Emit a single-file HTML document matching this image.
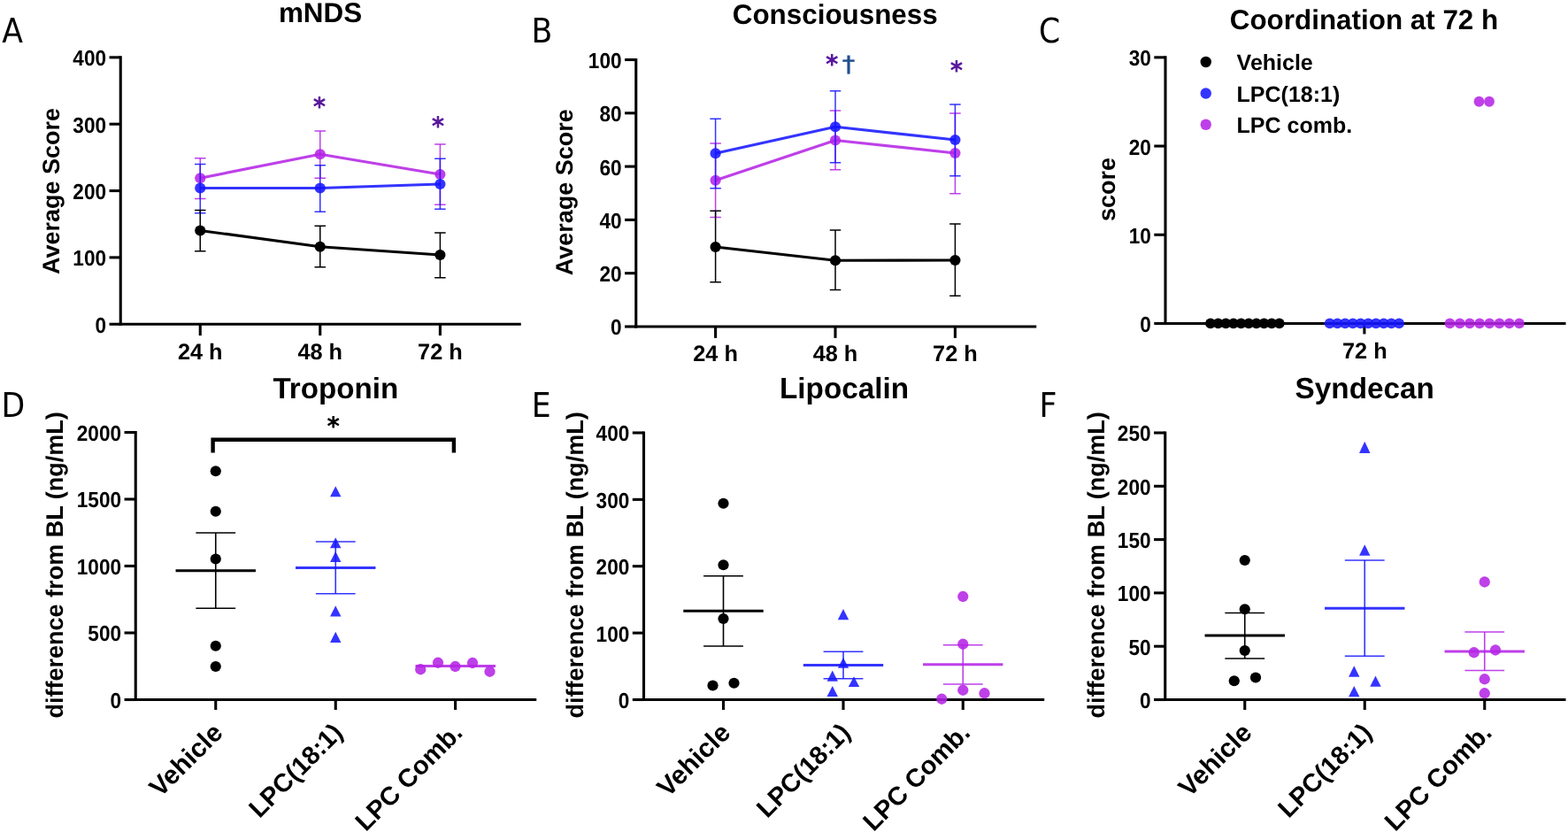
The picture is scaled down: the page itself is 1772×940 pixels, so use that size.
<!DOCTYPE html>
<html lang="en"><head><meta charset="utf-8"><title>Figure</title>
<style>
html,body{margin:0;padding:0;background:#fff;}
body{width:1772px;height:940px;overflow:hidden;}
svg{display:block;}
svg text{font-family:"Liberation Sans",Arial,sans-serif;text-rendering:geometricPrecision;}
</style></head><body>
<svg width="1772" height="940" viewBox="0 0 1772 940">
<rect width="1772" height="940" fill="#fff"/>
<text x="2.20" y="48.40" font-size="38.5" font-weight="normal" fill="#000" style="font-family:DejaVu Sans Condensed,DejaVu Sans,Liberation Sans,sans-serif">A</text>
<text x="600.50" y="48.20" font-size="38.5" font-weight="normal" fill="#000" style="font-family:DejaVu Sans Condensed,DejaVu Sans,Liberation Sans,sans-serif">B</text>
<text x="1174.00" y="48.10" font-size="38.5" font-weight="normal" fill="#000" style="font-family:DejaVu Sans Condensed,DejaVu Sans,Liberation Sans,sans-serif">C</text>
<text x="1.60" y="471.30" font-size="38.5" font-weight="normal" fill="#000" style="font-family:DejaVu Sans Condensed,DejaVu Sans,Liberation Sans,sans-serif">D</text>
<text x="600.70" y="471.30" font-size="38.5" font-weight="normal" fill="#000" style="font-family:DejaVu Sans Condensed,DejaVu Sans,Liberation Sans,sans-serif">E</text>
<text x="1174.40" y="471.30" font-size="38.5" font-weight="normal" fill="#000" style="font-family:DejaVu Sans Condensed,DejaVu Sans,Liberation Sans,sans-serif">F</text>
<line x1="136.25" y1="63.30" x2="136.25" y2="367.80" stroke="#000" stroke-width="3.1" stroke-linecap="butt"/>
<line x1="123.55" y1="366.25" x2="136.25" y2="366.25" stroke="#000" stroke-width="3.1" stroke-linecap="butt"/>
<text transform="translate(120.05 375.70) scale(0.919 1)" x="0" y="0" font-size="24.6" font-weight="bold" text-anchor="end" fill="#000">0</text>
<line x1="123.55" y1="290.90" x2="136.25" y2="290.90" stroke="#000" stroke-width="3.1" stroke-linecap="butt"/>
<text transform="translate(120.05 300.35) scale(0.919 1)" x="0" y="0" font-size="24.6" font-weight="bold" text-anchor="end" fill="#000">100</text>
<line x1="123.55" y1="215.55" x2="136.25" y2="215.55" stroke="#000" stroke-width="3.1" stroke-linecap="butt"/>
<text transform="translate(120.05 225.00) scale(0.919 1)" x="0" y="0" font-size="24.6" font-weight="bold" text-anchor="end" fill="#000">200</text>
<line x1="123.55" y1="140.20" x2="136.25" y2="140.20" stroke="#000" stroke-width="3.1" stroke-linecap="butt"/>
<text transform="translate(120.05 149.65) scale(0.919 1)" x="0" y="0" font-size="24.6" font-weight="bold" text-anchor="end" fill="#000">300</text>
<line x1="123.55" y1="64.85" x2="136.25" y2="64.85" stroke="#000" stroke-width="3.1" stroke-linecap="butt"/>
<text transform="translate(120.05 74.30) scale(0.919 1)" x="0" y="0" font-size="24.6" font-weight="bold" text-anchor="end" fill="#000">400</text>
<line x1="134.70" y1="366.25" x2="588.75" y2="366.25" stroke="#000" stroke-width="3.1" stroke-linecap="butt"/>
<line x1="226.25" y1="366.25" x2="226.25" y2="379.15" stroke="#000" stroke-width="3.1" stroke-linecap="butt"/>
<line x1="361.75" y1="366.25" x2="361.75" y2="379.15" stroke="#000" stroke-width="3.1" stroke-linecap="butt"/>
<line x1="497.40" y1="366.25" x2="497.40" y2="379.15" stroke="#000" stroke-width="3.1" stroke-linecap="butt"/>
<text x="226.25" y="405.50" font-size="25.3" font-weight="bold" text-anchor="middle" fill="#000" >24 h</text>
<text x="361.75" y="405.50" font-size="25.3" font-weight="bold" text-anchor="middle" fill="#000" >48 h</text>
<text x="497.40" y="405.50" font-size="25.3" font-weight="bold" text-anchor="middle" fill="#000" >72 h</text>
<text x="362.00" y="25.40" font-size="31.4" font-weight="bold" text-anchor="middle" fill="#000" >mNDS</text>
<text x="67.30" y="216.00" font-size="27" font-weight="bold" text-anchor="middle" fill="#000" transform="rotate(-90 67.30 216.00)" >Average Score</text>
<line x1="226.25" y1="178.75" x2="226.25" y2="224.50" stroke="#b424e6" stroke-width="1.5" stroke-linecap="butt" stroke-opacity="0.87"/>
<line x1="220.00" y1="178.75" x2="232.50" y2="178.75" stroke="#b424e6" stroke-width="1.5" stroke-linecap="butt" stroke-opacity="0.87"/>
<line x1="220.00" y1="224.50" x2="232.50" y2="224.50" stroke="#b424e6" stroke-width="1.5" stroke-linecap="butt" stroke-opacity="0.87"/>
<line x1="361.75" y1="148.00" x2="361.75" y2="201.25" stroke="#b424e6" stroke-width="1.5" stroke-linecap="butt" stroke-opacity="0.87"/>
<line x1="355.50" y1="148.00" x2="368.00" y2="148.00" stroke="#b424e6" stroke-width="1.5" stroke-linecap="butt" stroke-opacity="0.87"/>
<line x1="355.50" y1="201.25" x2="368.00" y2="201.25" stroke="#b424e6" stroke-width="1.5" stroke-linecap="butt" stroke-opacity="0.87"/>
<line x1="497.40" y1="163.00" x2="497.40" y2="231.25" stroke="#b424e6" stroke-width="1.5" stroke-linecap="butt" stroke-opacity="0.87"/>
<line x1="491.15" y1="163.00" x2="503.65" y2="163.00" stroke="#b424e6" stroke-width="1.5" stroke-linecap="butt" stroke-opacity="0.87"/>
<line x1="491.15" y1="231.25" x2="503.65" y2="231.25" stroke="#b424e6" stroke-width="1.5" stroke-linecap="butt" stroke-opacity="0.87"/>
<polyline points="226.25,201.25 361.75,174.25 497.40,197.00" fill="none" stroke="#b424e6" stroke-width="3.2" stroke-opacity="0.87" stroke-linejoin="round"/>
<circle cx="226.25" cy="201.25" r="6.1" fill="#b424e6" fill-opacity="0.87"/>
<circle cx="361.75" cy="174.25" r="6.1" fill="#b424e6" fill-opacity="0.87"/>
<circle cx="497.40" cy="197.00" r="6.1" fill="#b424e6" fill-opacity="0.87"/>
<line x1="226.25" y1="185.50" x2="226.25" y2="240.75" stroke="#1616ff" stroke-width="1.5" stroke-linecap="butt" stroke-opacity="0.87"/>
<line x1="220.00" y1="185.50" x2="232.50" y2="185.50" stroke="#1616ff" stroke-width="1.5" stroke-linecap="butt" stroke-opacity="0.87"/>
<line x1="220.00" y1="240.75" x2="232.50" y2="240.75" stroke="#1616ff" stroke-width="1.5" stroke-linecap="butt" stroke-opacity="0.87"/>
<line x1="361.75" y1="186.75" x2="361.75" y2="239.25" stroke="#1616ff" stroke-width="1.5" stroke-linecap="butt" stroke-opacity="0.87"/>
<line x1="355.50" y1="186.75" x2="368.00" y2="186.75" stroke="#1616ff" stroke-width="1.5" stroke-linecap="butt" stroke-opacity="0.87"/>
<line x1="355.50" y1="239.25" x2="368.00" y2="239.25" stroke="#1616ff" stroke-width="1.5" stroke-linecap="butt" stroke-opacity="0.87"/>
<line x1="497.40" y1="179.25" x2="497.40" y2="236.25" stroke="#1616ff" stroke-width="1.5" stroke-linecap="butt" stroke-opacity="0.87"/>
<line x1="491.15" y1="179.25" x2="503.65" y2="179.25" stroke="#1616ff" stroke-width="1.5" stroke-linecap="butt" stroke-opacity="0.87"/>
<line x1="491.15" y1="236.25" x2="503.65" y2="236.25" stroke="#1616ff" stroke-width="1.5" stroke-linecap="butt" stroke-opacity="0.87"/>
<polyline points="226.25,212.50 361.75,212.50 497.40,208.00" fill="none" stroke="#1616ff" stroke-width="3.2" stroke-opacity="0.87" stroke-linejoin="round"/>
<circle cx="226.25" cy="212.50" r="6.1" fill="#1616ff" fill-opacity="0.87"/>
<circle cx="361.75" cy="212.50" r="6.1" fill="#1616ff" fill-opacity="0.87"/>
<circle cx="497.40" cy="208.00" r="6.1" fill="#1616ff" fill-opacity="0.87"/>
<line x1="226.25" y1="237.50" x2="226.25" y2="283.75" stroke="#000" stroke-width="1.5" stroke-linecap="butt"/>
<line x1="220.00" y1="237.50" x2="232.50" y2="237.50" stroke="#000" stroke-width="1.5" stroke-linecap="butt"/>
<line x1="220.00" y1="283.75" x2="232.50" y2="283.75" stroke="#000" stroke-width="1.5" stroke-linecap="butt"/>
<line x1="361.75" y1="255.25" x2="361.75" y2="301.75" stroke="#000" stroke-width="1.5" stroke-linecap="butt"/>
<line x1="355.50" y1="255.25" x2="368.00" y2="255.25" stroke="#000" stroke-width="1.5" stroke-linecap="butt"/>
<line x1="355.50" y1="301.75" x2="368.00" y2="301.75" stroke="#000" stroke-width="1.5" stroke-linecap="butt"/>
<line x1="497.40" y1="263.00" x2="497.40" y2="313.75" stroke="#000" stroke-width="1.5" stroke-linecap="butt"/>
<line x1="491.15" y1="263.00" x2="503.65" y2="263.00" stroke="#000" stroke-width="1.5" stroke-linecap="butt"/>
<line x1="491.15" y1="313.75" x2="503.65" y2="313.75" stroke="#000" stroke-width="1.5" stroke-linecap="butt"/>
<polyline points="226.25,260.50 361.75,278.75 497.40,288.00" fill="none" stroke="#000" stroke-width="3.2" stroke-opacity="1" stroke-linejoin="round"/>
<circle cx="226.25" cy="260.50" r="6.1" fill="#000"/>
<circle cx="361.75" cy="278.75" r="6.1" fill="#000"/>
<circle cx="497.40" cy="288.00" r="6.1" fill="#000"/>
<text transform="translate(360.90 129.97) scale(1 1.0)" x="0" y="0" font-size="27.8" font-weight="normal" text-anchor="middle" fill="#56149a" stroke="#56149a" stroke-width="1.0" stroke-linejoin="round" style="font-family:DejaVu Sans,Liberation Sans,sans-serif">*</text>
<text transform="translate(495.00 152.17) scale(1 1.0)" x="0" y="0" font-size="27.8" font-weight="normal" text-anchor="middle" fill="#56149a" stroke="#56149a" stroke-width="1.0" stroke-linejoin="round" style="font-family:DejaVu Sans,Liberation Sans,sans-serif">*</text>
<line x1="718.75" y1="65.95" x2="718.75" y2="370.55" stroke="#000" stroke-width="3.1" stroke-linecap="butt"/>
<line x1="706.05" y1="369.00" x2="718.75" y2="369.00" stroke="#000" stroke-width="3.1" stroke-linecap="butt"/>
<text transform="translate(702.55 378.45) scale(0.919 1)" x="0" y="0" font-size="24.6" font-weight="bold" text-anchor="end" fill="#000">0</text>
<line x1="706.05" y1="308.70" x2="718.75" y2="308.70" stroke="#000" stroke-width="3.1" stroke-linecap="butt"/>
<text transform="translate(702.55 318.15) scale(0.919 1)" x="0" y="0" font-size="24.6" font-weight="bold" text-anchor="end" fill="#000">20</text>
<line x1="706.05" y1="248.40" x2="718.75" y2="248.40" stroke="#000" stroke-width="3.1" stroke-linecap="butt"/>
<text transform="translate(702.55 257.85) scale(0.919 1)" x="0" y="0" font-size="24.6" font-weight="bold" text-anchor="end" fill="#000">40</text>
<line x1="706.05" y1="188.10" x2="718.75" y2="188.10" stroke="#000" stroke-width="3.1" stroke-linecap="butt"/>
<text transform="translate(702.55 197.55) scale(0.919 1)" x="0" y="0" font-size="24.6" font-weight="bold" text-anchor="end" fill="#000">60</text>
<line x1="706.05" y1="127.80" x2="718.75" y2="127.80" stroke="#000" stroke-width="3.1" stroke-linecap="butt"/>
<text transform="translate(702.55 137.25) scale(0.919 1)" x="0" y="0" font-size="24.6" font-weight="bold" text-anchor="end" fill="#000">80</text>
<line x1="706.05" y1="67.50" x2="718.75" y2="67.50" stroke="#000" stroke-width="3.1" stroke-linecap="butt"/>
<text transform="translate(702.55 76.95) scale(0.919 1)" x="0" y="0" font-size="24.6" font-weight="bold" text-anchor="end" fill="#000">100</text>
<line x1="717.20" y1="369.00" x2="1171.25" y2="369.00" stroke="#000" stroke-width="3.1" stroke-linecap="butt"/>
<line x1="808.60" y1="369.00" x2="808.60" y2="381.90" stroke="#000" stroke-width="3.1" stroke-linecap="butt"/>
<line x1="944.00" y1="369.00" x2="944.00" y2="381.90" stroke="#000" stroke-width="3.1" stroke-linecap="butt"/>
<line x1="1079.40" y1="369.00" x2="1079.40" y2="381.90" stroke="#000" stroke-width="3.1" stroke-linecap="butt"/>
<text x="808.60" y="407.80" font-size="25.3" font-weight="bold" text-anchor="middle" fill="#000" >24 h</text>
<text x="944.00" y="407.80" font-size="25.3" font-weight="bold" text-anchor="middle" fill="#000" >48 h</text>
<text x="1079.40" y="407.80" font-size="25.3" font-weight="bold" text-anchor="middle" fill="#000" >72 h</text>
<text x="943.75" y="27.00" font-size="31.4" font-weight="bold" text-anchor="middle" fill="#000" >Consciousness</text>
<text x="647.20" y="217.20" font-size="27" font-weight="bold" text-anchor="middle" fill="#000" transform="rotate(-90 647.20 217.20)" >Average Score</text>
<line x1="808.60" y1="162.00" x2="808.60" y2="245.50" stroke="#b424e6" stroke-width="1.5" stroke-linecap="butt" stroke-opacity="0.87"/>
<line x1="802.35" y1="162.00" x2="814.85" y2="162.00" stroke="#b424e6" stroke-width="1.5" stroke-linecap="butt" stroke-opacity="0.87"/>
<line x1="802.35" y1="245.50" x2="814.85" y2="245.50" stroke="#b424e6" stroke-width="1.5" stroke-linecap="butt" stroke-opacity="0.87"/>
<line x1="944.00" y1="125.00" x2="944.00" y2="191.75" stroke="#b424e6" stroke-width="1.5" stroke-linecap="butt" stroke-opacity="0.87"/>
<line x1="937.75" y1="125.00" x2="950.25" y2="125.00" stroke="#b424e6" stroke-width="1.5" stroke-linecap="butt" stroke-opacity="0.87"/>
<line x1="937.75" y1="191.75" x2="950.25" y2="191.75" stroke="#b424e6" stroke-width="1.5" stroke-linecap="butt" stroke-opacity="0.87"/>
<line x1="1079.40" y1="128.00" x2="1079.40" y2="218.75" stroke="#b424e6" stroke-width="1.5" stroke-linecap="butt" stroke-opacity="0.87"/>
<line x1="1073.15" y1="128.00" x2="1085.65" y2="128.00" stroke="#b424e6" stroke-width="1.5" stroke-linecap="butt" stroke-opacity="0.87"/>
<line x1="1073.15" y1="218.75" x2="1085.65" y2="218.75" stroke="#b424e6" stroke-width="1.5" stroke-linecap="butt" stroke-opacity="0.87"/>
<polyline points="808.60,203.75 944.00,158.50 1079.40,173.00" fill="none" stroke="#b424e6" stroke-width="3.2" stroke-opacity="0.87" stroke-linejoin="round"/>
<circle cx="808.60" cy="203.75" r="6.1" fill="#b424e6" fill-opacity="0.87"/>
<circle cx="944.00" cy="158.50" r="6.1" fill="#b424e6" fill-opacity="0.87"/>
<circle cx="1079.40" cy="173.00" r="6.1" fill="#b424e6" fill-opacity="0.87"/>
<line x1="808.60" y1="134.25" x2="808.60" y2="212.75" stroke="#1616ff" stroke-width="1.5" stroke-linecap="butt" stroke-opacity="0.87"/>
<line x1="802.35" y1="134.25" x2="814.85" y2="134.25" stroke="#1616ff" stroke-width="1.5" stroke-linecap="butt" stroke-opacity="0.87"/>
<line x1="802.35" y1="212.75" x2="814.85" y2="212.75" stroke="#1616ff" stroke-width="1.5" stroke-linecap="butt" stroke-opacity="0.87"/>
<line x1="944.00" y1="102.75" x2="944.00" y2="183.75" stroke="#1616ff" stroke-width="1.5" stroke-linecap="butt" stroke-opacity="0.87"/>
<line x1="937.75" y1="102.75" x2="950.25" y2="102.75" stroke="#1616ff" stroke-width="1.5" stroke-linecap="butt" stroke-opacity="0.87"/>
<line x1="937.75" y1="183.75" x2="950.25" y2="183.75" stroke="#1616ff" stroke-width="1.5" stroke-linecap="butt" stroke-opacity="0.87"/>
<line x1="1079.40" y1="118.00" x2="1079.40" y2="198.75" stroke="#1616ff" stroke-width="1.5" stroke-linecap="butt" stroke-opacity="0.87"/>
<line x1="1073.15" y1="118.00" x2="1085.65" y2="118.00" stroke="#1616ff" stroke-width="1.5" stroke-linecap="butt" stroke-opacity="0.87"/>
<line x1="1073.15" y1="198.75" x2="1085.65" y2="198.75" stroke="#1616ff" stroke-width="1.5" stroke-linecap="butt" stroke-opacity="0.87"/>
<polyline points="808.60,173.25 944.00,143.25 1079.40,158.00" fill="none" stroke="#1616ff" stroke-width="3.2" stroke-opacity="0.87" stroke-linejoin="round"/>
<circle cx="808.60" cy="173.25" r="6.1" fill="#1616ff" fill-opacity="0.87"/>
<circle cx="944.00" cy="143.25" r="6.1" fill="#1616ff" fill-opacity="0.87"/>
<circle cx="1079.40" cy="158.00" r="6.1" fill="#1616ff" fill-opacity="0.87"/>
<line x1="808.60" y1="238.25" x2="808.60" y2="318.75" stroke="#000" stroke-width="1.5" stroke-linecap="butt"/>
<line x1="802.35" y1="238.25" x2="814.85" y2="238.25" stroke="#000" stroke-width="1.5" stroke-linecap="butt"/>
<line x1="802.35" y1="318.75" x2="814.85" y2="318.75" stroke="#000" stroke-width="1.5" stroke-linecap="butt"/>
<line x1="944.00" y1="260.00" x2="944.00" y2="327.50" stroke="#000" stroke-width="1.5" stroke-linecap="butt"/>
<line x1="937.75" y1="260.00" x2="950.25" y2="260.00" stroke="#000" stroke-width="1.5" stroke-linecap="butt"/>
<line x1="937.75" y1="327.50" x2="950.25" y2="327.50" stroke="#000" stroke-width="1.5" stroke-linecap="butt"/>
<line x1="1079.40" y1="253.00" x2="1079.40" y2="334.25" stroke="#000" stroke-width="1.5" stroke-linecap="butt"/>
<line x1="1073.15" y1="253.00" x2="1085.65" y2="253.00" stroke="#000" stroke-width="1.5" stroke-linecap="butt"/>
<line x1="1073.15" y1="334.25" x2="1085.65" y2="334.25" stroke="#000" stroke-width="1.5" stroke-linecap="butt"/>
<polyline points="808.60,279.00 944.00,294.25 1079.40,294.00" fill="none" stroke="#000" stroke-width="3.2" stroke-opacity="1" stroke-linejoin="round"/>
<circle cx="808.60" cy="279.00" r="6.1" fill="#000"/>
<circle cx="944.00" cy="294.25" r="6.1" fill="#000"/>
<circle cx="1079.40" cy="294.00" r="6.1" fill="#000"/>
<text transform="translate(940.10 82.37) scale(1 1.0)" x="0" y="0" font-size="27.8" font-weight="normal" text-anchor="middle" fill="#56149a" stroke="#56149a" stroke-width="1.0" stroke-linejoin="round" style="font-family:DejaVu Sans,Liberation Sans,sans-serif">*</text>
<text transform="translate(1080.95 89.17) scale(1 1.0)" x="0" y="0" font-size="27.8" font-weight="normal" text-anchor="middle" fill="#56149a" stroke="#56149a" stroke-width="1.0" stroke-linejoin="round" style="font-family:DejaVu Sans,Liberation Sans,sans-serif">*</text>
<text transform="translate(958.9 80.7) scale(1.1 0.955)" x="0" y="0" font-size="26.4" text-anchor="middle" fill="#1f4e8d" stroke="#1f4e8d" stroke-width="0.4" style="font-family:DejaVu Sans,Liberation Sans,sans-serif">†</text>
<line x1="1317.00" y1="63.30" x2="1317.00" y2="367.00" stroke="#000" stroke-width="3.1" stroke-linecap="butt"/>
<line x1="1304.30" y1="365.45" x2="1317.00" y2="365.45" stroke="#000" stroke-width="3.1" stroke-linecap="butt"/>
<text transform="translate(1300.80 374.90) scale(0.919 1)" x="0" y="0" font-size="24.6" font-weight="bold" text-anchor="end" fill="#000">0</text>
<line x1="1304.30" y1="265.25" x2="1317.00" y2="265.25" stroke="#000" stroke-width="3.1" stroke-linecap="butt"/>
<text transform="translate(1300.80 274.70) scale(0.919 1)" x="0" y="0" font-size="24.6" font-weight="bold" text-anchor="end" fill="#000">10</text>
<line x1="1304.30" y1="165.05" x2="1317.00" y2="165.05" stroke="#000" stroke-width="3.1" stroke-linecap="butt"/>
<text transform="translate(1300.80 174.50) scale(0.919 1)" x="0" y="0" font-size="24.6" font-weight="bold" text-anchor="end" fill="#000">20</text>
<line x1="1304.30" y1="64.85" x2="1317.00" y2="64.85" stroke="#000" stroke-width="3.1" stroke-linecap="butt"/>
<text transform="translate(1300.80 74.30) scale(0.919 1)" x="0" y="0" font-size="24.6" font-weight="bold" text-anchor="end" fill="#000">30</text>
<line x1="1315.45" y1="365.45" x2="1769.50" y2="365.45" stroke="#000" stroke-width="3.1" stroke-linecap="butt"/>
<line x1="1541.90" y1="365.45" x2="1541.90" y2="377.45" stroke="#000" stroke-width="3.1" stroke-linecap="butt"/>
<text x="1542.30" y="404.50" font-size="25.3" font-weight="bold" text-anchor="middle" fill="#000" >72 h</text>
<text x="1541.50" y="32.50" font-size="31.4" font-weight="bold" text-anchor="middle" fill="#000" >Coordination at 72 h</text>
<text x="1260.00" y="213.90" font-size="27" font-weight="bold" text-anchor="middle" fill="#000" transform="rotate(-90 1260.00 213.90)" >score</text>
<circle cx="1368.00" cy="365.45" r="5.9" fill="#000"/>
<circle cx="1376.64" cy="365.45" r="5.9" fill="#000"/>
<circle cx="1385.28" cy="365.45" r="5.9" fill="#000"/>
<circle cx="1393.92" cy="365.45" r="5.9" fill="#000"/>
<circle cx="1402.56" cy="365.45" r="5.9" fill="#000"/>
<circle cx="1411.20" cy="365.45" r="5.9" fill="#000"/>
<circle cx="1419.84" cy="365.45" r="5.9" fill="#000"/>
<circle cx="1428.48" cy="365.45" r="5.9" fill="#000"/>
<circle cx="1437.12" cy="365.45" r="5.9" fill="#000"/>
<circle cx="1445.76" cy="365.45" r="5.9" fill="#000"/>
<circle cx="1502.70" cy="365.45" r="5.9" fill="#1616ff" fill-opacity="0.87"/>
<circle cx="1511.41" cy="365.45" r="5.9" fill="#1616ff" fill-opacity="0.87"/>
<circle cx="1520.12" cy="365.45" r="5.9" fill="#1616ff" fill-opacity="0.87"/>
<circle cx="1528.83" cy="365.45" r="5.9" fill="#1616ff" fill-opacity="0.87"/>
<circle cx="1537.54" cy="365.45" r="5.9" fill="#1616ff" fill-opacity="0.87"/>
<circle cx="1546.25" cy="365.45" r="5.9" fill="#1616ff" fill-opacity="0.87"/>
<circle cx="1554.96" cy="365.45" r="5.9" fill="#1616ff" fill-opacity="0.87"/>
<circle cx="1563.67" cy="365.45" r="5.9" fill="#1616ff" fill-opacity="0.87"/>
<circle cx="1572.38" cy="365.45" r="5.9" fill="#1616ff" fill-opacity="0.87"/>
<circle cx="1581.09" cy="365.45" r="5.9" fill="#1616ff" fill-opacity="0.87"/>
<circle cx="1638.50" cy="365.45" r="5.9" fill="#b424e6" fill-opacity="0.87"/>
<circle cx="1649.70" cy="365.45" r="5.9" fill="#b424e6" fill-opacity="0.87"/>
<circle cx="1660.90" cy="365.45" r="5.9" fill="#b424e6" fill-opacity="0.87"/>
<circle cx="1672.10" cy="365.45" r="5.9" fill="#b424e6" fill-opacity="0.87"/>
<circle cx="1683.30" cy="365.45" r="5.9" fill="#b424e6" fill-opacity="0.87"/>
<circle cx="1694.50" cy="365.45" r="5.9" fill="#b424e6" fill-opacity="0.87"/>
<circle cx="1705.70" cy="365.45" r="5.9" fill="#b424e6" fill-opacity="0.87"/>
<circle cx="1716.90" cy="365.45" r="5.9" fill="#b424e6" fill-opacity="0.87"/>
<circle cx="1671.50" cy="114.75" r="5.9" fill="#b424e6" fill-opacity="0.87"/>
<circle cx="1683.00" cy="114.75" r="5.9" fill="#b424e6" fill-opacity="0.87"/>
<circle cx="1362.75" cy="70.00" r="6.2" fill="#000"/>
<circle cx="1362.75" cy="105.50" r="6.2" fill="#1616ff" fill-opacity="0.87"/>
<circle cx="1362.75" cy="140.75" r="6.2" fill="#b424e6" fill-opacity="0.87"/>
<text x="1397.60" y="78.75" font-size="25" font-weight="bold" text-anchor="start" fill="#000" >Vehicle</text>
<text x="1397.60" y="114.50" font-size="25" font-weight="bold" text-anchor="start" fill="#000" >LPC(18:1)</text>
<text x="1397.60" y="150.00" font-size="25" font-weight="bold" text-anchor="start" fill="#000" >LPC comb.</text>
<line x1="153.25" y1="486.95" x2="153.25" y2="792.05" stroke="#000" stroke-width="3.1" stroke-linecap="butt"/>
<line x1="140.55" y1="790.50" x2="153.25" y2="790.50" stroke="#000" stroke-width="3.1" stroke-linecap="butt"/>
<text transform="translate(137.05 799.95) scale(0.919 1)" x="0" y="0" font-size="24.6" font-weight="bold" text-anchor="end" fill="#000">0</text>
<line x1="140.55" y1="715.00" x2="153.25" y2="715.00" stroke="#000" stroke-width="3.1" stroke-linecap="butt"/>
<text transform="translate(137.05 724.45) scale(0.919 1)" x="0" y="0" font-size="24.6" font-weight="bold" text-anchor="end" fill="#000">500</text>
<line x1="140.55" y1="639.50" x2="153.25" y2="639.50" stroke="#000" stroke-width="3.1" stroke-linecap="butt"/>
<text transform="translate(137.05 648.95) scale(0.919 1)" x="0" y="0" font-size="24.6" font-weight="bold" text-anchor="end" fill="#000">1000</text>
<line x1="140.55" y1="564.00" x2="153.25" y2="564.00" stroke="#000" stroke-width="3.1" stroke-linecap="butt"/>
<text transform="translate(137.05 573.45) scale(0.919 1)" x="0" y="0" font-size="24.6" font-weight="bold" text-anchor="end" fill="#000">1500</text>
<line x1="140.55" y1="488.50" x2="153.25" y2="488.50" stroke="#000" stroke-width="3.1" stroke-linecap="butt"/>
<text transform="translate(137.05 497.95) scale(0.919 1)" x="0" y="0" font-size="24.6" font-weight="bold" text-anchor="end" fill="#000">2000</text>
<line x1="151.70" y1="790.50" x2="606.25" y2="790.50" stroke="#000" stroke-width="3.1" stroke-linecap="butt"/>
<line x1="243.75" y1="790.50" x2="243.75" y2="802.00" stroke="#000" stroke-width="3.1" stroke-linecap="butt"/>
<line x1="379.25" y1="790.50" x2="379.25" y2="802.00" stroke="#000" stroke-width="3.1" stroke-linecap="butt"/>
<line x1="514.60" y1="790.50" x2="514.60" y2="802.00" stroke="#000" stroke-width="3.1" stroke-linecap="butt"/>
<text x="379.40" y="449.50" font-size="33.2" font-weight="bold" text-anchor="middle" fill="#000" >Troponin</text>
<text x="71.10" y="638.40" font-size="27.03" font-weight="bold" text-anchor="middle" fill="#000" transform="rotate(-90 71.10 638.40)" >difference from BL (ng/mL)</text>
<text x="253.35" y="829.50" font-size="29.7" font-weight="bold" text-anchor="end" fill="#000" transform="rotate(-45 253.35 829.50)" >Vehicle</text>
<text x="388.85" y="829.50" font-size="29.0" font-weight="bold" text-anchor="end" fill="#000" transform="rotate(-45 388.85 829.50)" >LPC(18:1)</text>
<text x="524.20" y="829.50" font-size="29.05" font-weight="bold" text-anchor="end" fill="#000" transform="rotate(-45 524.20 829.50)" >LPC Comb.</text>
<line x1="243.75" y1="602.00" x2="243.75" y2="687.25" stroke="#000" stroke-width="1.6" stroke-linecap="butt"/>
<line x1="221.35" y1="602.00" x2="266.15" y2="602.00" stroke="#000" stroke-width="1.6" stroke-linecap="butt"/>
<line x1="221.35" y1="687.25" x2="266.15" y2="687.25" stroke="#000" stroke-width="1.6" stroke-linecap="butt"/>
<line x1="198.55" y1="644.75" x2="288.95" y2="644.75" stroke="#000" stroke-width="2.8" stroke-linecap="butt"/>
<circle cx="243.75" cy="532.25" r="6.1" fill="#000"/>
<circle cx="243.75" cy="577.75" r="6.1" fill="#000"/>
<circle cx="243.75" cy="631.50" r="6.1" fill="#000"/>
<circle cx="243.75" cy="729.75" r="6.1" fill="#000"/>
<circle cx="243.75" cy="753.00" r="6.1" fill="#000"/>
<line x1="379.25" y1="612.00" x2="379.25" y2="670.75" stroke="#1616ff" stroke-width="1.6" stroke-linecap="butt" stroke-opacity="0.87"/>
<line x1="356.85" y1="612.00" x2="401.65" y2="612.00" stroke="#1616ff" stroke-width="1.6" stroke-linecap="butt" stroke-opacity="0.87"/>
<line x1="356.85" y1="670.75" x2="401.65" y2="670.75" stroke="#1616ff" stroke-width="1.6" stroke-linecap="butt" stroke-opacity="0.87"/>
<line x1="334.05" y1="641.50" x2="424.45" y2="641.50" stroke="#1616ff" stroke-width="2.8" stroke-linecap="butt" stroke-opacity="0.87"/>
<polygon points="379.25,549.30 385.45,561.20 373.05,561.20" fill="#1616ff" fill-opacity="0.87"/>
<polygon points="379.25,607.30 385.45,619.20 373.05,619.20" fill="#1616ff" fill-opacity="0.87"/>
<polygon points="379.25,623.05 385.45,634.90 373.05,634.90" fill="#1616ff" fill-opacity="0.87"/>
<polygon points="379.25,684.30 385.45,696.50 373.05,696.50" fill="#1616ff" fill-opacity="0.87"/>
<polygon points="379.25,713.80 385.45,726.10 373.05,726.10" fill="#1616ff" fill-opacity="0.87"/>
<line x1="469.50" y1="752.50" x2="560.00" y2="752.50" stroke="#b424e6" stroke-width="2.8" stroke-linecap="butt" stroke-opacity="0.87"/>
<circle cx="475.25" cy="756.25" r="6.15" fill="#b424e6" fill-opacity="0.87"/>
<circle cx="495.00" cy="748.75" r="6.15" fill="#b424e6" fill-opacity="0.87"/>
<circle cx="514.50" cy="753.00" r="6.15" fill="#b424e6" fill-opacity="0.87"/>
<circle cx="534.00" cy="749.00" r="6.15" fill="#b424e6" fill-opacity="0.87"/>
<circle cx="553.50" cy="758.75" r="6.15" fill="#b424e6" fill-opacity="0.87"/>
<polyline points="240.6,511.5 240.6,496.7 512.9,496.7 512.9,511.5" fill="none" stroke="#000" stroke-width="4.4"/>
<text transform="translate(376.75 490.77) scale(1 1.0)" x="0" y="0" font-size="27.8" font-weight="normal" text-anchor="middle" fill="#000" stroke="#000" stroke-width="1.0" stroke-linejoin="round" style="font-family:DejaVu Sans,Liberation Sans,sans-serif">*</text>
<line x1="727.50" y1="487.43" x2="727.50" y2="792.05" stroke="#000" stroke-width="3.1" stroke-linecap="butt"/>
<line x1="714.80" y1="790.50" x2="727.50" y2="790.50" stroke="#000" stroke-width="3.1" stroke-linecap="butt"/>
<text transform="translate(711.30 799.95) scale(0.919 1)" x="0" y="0" font-size="24.6" font-weight="bold" text-anchor="end" fill="#000">0</text>
<line x1="714.80" y1="715.12" x2="727.50" y2="715.12" stroke="#000" stroke-width="3.1" stroke-linecap="butt"/>
<text transform="translate(711.30 724.57) scale(0.919 1)" x="0" y="0" font-size="24.6" font-weight="bold" text-anchor="end" fill="#000">100</text>
<line x1="714.80" y1="639.74" x2="727.50" y2="639.74" stroke="#000" stroke-width="3.1" stroke-linecap="butt"/>
<text transform="translate(711.30 649.19) scale(0.919 1)" x="0" y="0" font-size="24.6" font-weight="bold" text-anchor="end" fill="#000">200</text>
<line x1="714.80" y1="564.36" x2="727.50" y2="564.36" stroke="#000" stroke-width="3.1" stroke-linecap="butt"/>
<text transform="translate(711.30 573.81) scale(0.919 1)" x="0" y="0" font-size="24.6" font-weight="bold" text-anchor="end" fill="#000">300</text>
<line x1="714.80" y1="488.98" x2="727.50" y2="488.98" stroke="#000" stroke-width="3.1" stroke-linecap="butt"/>
<text transform="translate(711.30 498.43) scale(0.919 1)" x="0" y="0" font-size="24.6" font-weight="bold" text-anchor="end" fill="#000">400</text>
<line x1="725.95" y1="790.50" x2="1180.20" y2="790.50" stroke="#000" stroke-width="3.1" stroke-linecap="butt"/>
<line x1="817.50" y1="790.50" x2="817.50" y2="802.00" stroke="#000" stroke-width="3.1" stroke-linecap="butt"/>
<line x1="953.00" y1="790.50" x2="953.00" y2="802.00" stroke="#000" stroke-width="3.1" stroke-linecap="butt"/>
<line x1="1088.25" y1="790.50" x2="1088.25" y2="802.00" stroke="#000" stroke-width="3.1" stroke-linecap="butt"/>
<text x="954.10" y="449.50" font-size="33.3" font-weight="bold" text-anchor="middle" fill="#000" >Lipocalin</text>
<text x="659.20" y="638.40" font-size="27.03" font-weight="bold" text-anchor="middle" fill="#000" transform="rotate(-90 659.20 638.40)" >difference from BL (ng/mL)</text>
<text x="827.10" y="829.50" font-size="29.7" font-weight="bold" text-anchor="end" fill="#000" transform="rotate(-45 827.10 829.50)" >Vehicle</text>
<text x="962.60" y="829.50" font-size="29.0" font-weight="bold" text-anchor="end" fill="#000" transform="rotate(-45 962.60 829.50)" >LPC(18:1)</text>
<text x="1097.85" y="829.50" font-size="29.05" font-weight="bold" text-anchor="end" fill="#000" transform="rotate(-45 1097.85 829.50)" >LPC Comb.</text>
<line x1="817.50" y1="650.75" x2="817.50" y2="730.00" stroke="#000" stroke-width="1.6" stroke-linecap="butt"/>
<line x1="795.10" y1="650.75" x2="839.90" y2="650.75" stroke="#000" stroke-width="1.6" stroke-linecap="butt"/>
<line x1="795.10" y1="730.00" x2="839.90" y2="730.00" stroke="#000" stroke-width="1.6" stroke-linecap="butt"/>
<line x1="772.30" y1="690.25" x2="862.70" y2="690.25" stroke="#000" stroke-width="2.8" stroke-linecap="butt"/>
<circle cx="817.50" cy="568.75" r="6.1" fill="#000"/>
<circle cx="817.50" cy="638.25" r="6.1" fill="#000"/>
<circle cx="817.50" cy="699.00" r="6.1" fill="#000"/>
<circle cx="805.50" cy="774.50" r="6.1" fill="#000"/>
<circle cx="829.50" cy="771.75" r="6.1" fill="#000"/>
<line x1="953.00" y1="736.25" x2="953.00" y2="766.75" stroke="#1616ff" stroke-width="1.6" stroke-linecap="butt" stroke-opacity="0.87"/>
<line x1="930.60" y1="736.25" x2="975.40" y2="736.25" stroke="#1616ff" stroke-width="1.6" stroke-linecap="butt" stroke-opacity="0.87"/>
<line x1="930.60" y1="766.75" x2="975.40" y2="766.75" stroke="#1616ff" stroke-width="1.6" stroke-linecap="butt" stroke-opacity="0.87"/>
<line x1="907.80" y1="751.50" x2="998.20" y2="751.50" stroke="#1616ff" stroke-width="2.8" stroke-linecap="butt" stroke-opacity="0.87"/>
<polygon points="953.00,688.05 959.20,700.30 946.80,700.30" fill="#1616ff" fill-opacity="0.87"/>
<polygon points="953.00,743.05 959.20,754.80 946.80,754.80" fill="#1616ff" fill-opacity="0.87"/>
<polygon points="940.75,757.55 946.95,769.80 934.55,769.80" fill="#1616ff" fill-opacity="0.87"/>
<polygon points="965.00,764.30 971.20,776.05 958.80,776.05" fill="#1616ff" fill-opacity="0.87"/>
<polygon points="940.75,775.05 946.95,787.05 934.55,787.05" fill="#1616ff" fill-opacity="0.87"/>
<line x1="1088.25" y1="728.75" x2="1088.25" y2="773.00" stroke="#b424e6" stroke-width="1.6" stroke-linecap="butt" stroke-opacity="0.87"/>
<line x1="1065.85" y1="728.75" x2="1110.65" y2="728.75" stroke="#b424e6" stroke-width="1.6" stroke-linecap="butt" stroke-opacity="0.87"/>
<line x1="1065.85" y1="773.00" x2="1110.65" y2="773.00" stroke="#b424e6" stroke-width="1.6" stroke-linecap="butt" stroke-opacity="0.87"/>
<line x1="1043.05" y1="750.75" x2="1133.45" y2="750.75" stroke="#b424e6" stroke-width="2.8" stroke-linecap="butt" stroke-opacity="0.87"/>
<circle cx="1088.25" cy="674.00" r="6.15" fill="#b424e6" fill-opacity="0.87"/>
<circle cx="1088.25" cy="727.75" r="6.15" fill="#b424e6" fill-opacity="0.87"/>
<circle cx="1088.25" cy="779.75" r="6.15" fill="#b424e6" fill-opacity="0.87"/>
<circle cx="1112.50" cy="783.25" r="6.15" fill="#b424e6" fill-opacity="0.87"/>
<circle cx="1064.25" cy="789.75" r="6.15" fill="#b424e6" fill-opacity="0.87"/>
<line x1="1316.75" y1="487.45" x2="1316.75" y2="792.05" stroke="#000" stroke-width="3.1" stroke-linecap="butt"/>
<line x1="1304.05" y1="790.50" x2="1316.75" y2="790.50" stroke="#000" stroke-width="3.1" stroke-linecap="butt"/>
<text transform="translate(1300.55 799.95) scale(0.919 1)" x="0" y="0" font-size="24.6" font-weight="bold" text-anchor="end" fill="#000">0</text>
<line x1="1304.05" y1="730.20" x2="1316.75" y2="730.20" stroke="#000" stroke-width="3.1" stroke-linecap="butt"/>
<text transform="translate(1300.55 739.65) scale(0.919 1)" x="0" y="0" font-size="24.6" font-weight="bold" text-anchor="end" fill="#000">50</text>
<line x1="1304.05" y1="669.90" x2="1316.75" y2="669.90" stroke="#000" stroke-width="3.1" stroke-linecap="butt"/>
<text transform="translate(1300.55 679.35) scale(0.919 1)" x="0" y="0" font-size="24.6" font-weight="bold" text-anchor="end" fill="#000">100</text>
<line x1="1304.05" y1="609.60" x2="1316.75" y2="609.60" stroke="#000" stroke-width="3.1" stroke-linecap="butt"/>
<text transform="translate(1300.55 619.05) scale(0.919 1)" x="0" y="0" font-size="24.6" font-weight="bold" text-anchor="end" fill="#000">150</text>
<line x1="1304.05" y1="549.30" x2="1316.75" y2="549.30" stroke="#000" stroke-width="3.1" stroke-linecap="butt"/>
<text transform="translate(1300.55 558.75) scale(0.919 1)" x="0" y="0" font-size="24.6" font-weight="bold" text-anchor="end" fill="#000">200</text>
<line x1="1304.05" y1="489.00" x2="1316.75" y2="489.00" stroke="#000" stroke-width="3.1" stroke-linecap="butt"/>
<text transform="translate(1300.55 498.45) scale(0.919 1)" x="0" y="0" font-size="24.6" font-weight="bold" text-anchor="end" fill="#000">250</text>
<line x1="1315.20" y1="790.50" x2="1769.50" y2="790.50" stroke="#000" stroke-width="3.1" stroke-linecap="butt"/>
<line x1="1406.75" y1="790.50" x2="1406.75" y2="802.00" stroke="#000" stroke-width="3.1" stroke-linecap="butt"/>
<line x1="1542.25" y1="790.50" x2="1542.25" y2="802.00" stroke="#000" stroke-width="3.1" stroke-linecap="butt"/>
<line x1="1677.75" y1="790.50" x2="1677.75" y2="802.00" stroke="#000" stroke-width="3.1" stroke-linecap="butt"/>
<text x="1542.25" y="449.50" font-size="33.3" font-weight="bold" text-anchor="middle" fill="#000" >Syndecan</text>
<text x="1248.30" y="638.40" font-size="27.03" font-weight="bold" text-anchor="middle" fill="#000" transform="rotate(-90 1248.30 638.40)" >difference from BL (ng/mL)</text>
<text x="1416.35" y="829.50" font-size="29.7" font-weight="bold" text-anchor="end" fill="#000" transform="rotate(-45 1416.35 829.50)" >Vehicle</text>
<text x="1551.85" y="829.50" font-size="29.0" font-weight="bold" text-anchor="end" fill="#000" transform="rotate(-45 1551.85 829.50)" >LPC(18:1)</text>
<text x="1687.35" y="829.50" font-size="29.05" font-weight="bold" text-anchor="end" fill="#000" transform="rotate(-45 1687.35 829.50)" >LPC Comb.</text>
<line x1="1406.75" y1="692.50" x2="1406.75" y2="744.00" stroke="#000" stroke-width="1.6" stroke-linecap="butt"/>
<line x1="1384.35" y1="692.50" x2="1429.15" y2="692.50" stroke="#000" stroke-width="1.6" stroke-linecap="butt"/>
<line x1="1384.35" y1="744.00" x2="1429.15" y2="744.00" stroke="#000" stroke-width="1.6" stroke-linecap="butt"/>
<line x1="1361.55" y1="718.00" x2="1451.95" y2="718.00" stroke="#000" stroke-width="2.8" stroke-linecap="butt"/>
<circle cx="1406.75" cy="633.00" r="6.1" fill="#000"/>
<circle cx="1406.75" cy="688.25" r="6.1" fill="#000"/>
<circle cx="1406.75" cy="735.00" r="6.1" fill="#000"/>
<circle cx="1394.75" cy="769.25" r="6.1" fill="#000"/>
<circle cx="1419.00" cy="765.50" r="6.1" fill="#000"/>
<line x1="1542.25" y1="633.00" x2="1542.25" y2="741.25" stroke="#1616ff" stroke-width="1.6" stroke-linecap="butt" stroke-opacity="0.87"/>
<line x1="1519.85" y1="633.00" x2="1564.65" y2="633.00" stroke="#1616ff" stroke-width="1.6" stroke-linecap="butt" stroke-opacity="0.87"/>
<line x1="1519.85" y1="741.25" x2="1564.65" y2="741.25" stroke="#1616ff" stroke-width="1.6" stroke-linecap="butt" stroke-opacity="0.87"/>
<line x1="1497.05" y1="687.25" x2="1587.45" y2="687.25" stroke="#1616ff" stroke-width="2.8" stroke-linecap="butt" stroke-opacity="0.87"/>
<polygon points="1542.25,498.80 1548.45,511.90 1536.05,511.90" fill="#1616ff" fill-opacity="0.87"/>
<polygon points="1542.25,615.30 1548.45,627.80 1536.05,627.80" fill="#1616ff" fill-opacity="0.87"/>
<polygon points="1530.25,752.30 1536.45,764.80 1524.05,764.80" fill="#1616ff" fill-opacity="0.87"/>
<polygon points="1554.50,763.55 1560.70,775.80 1548.30,775.80" fill="#1616ff" fill-opacity="0.87"/>
<polygon points="1530.25,775.05 1536.45,787.30 1524.05,787.30" fill="#1616ff" fill-opacity="0.87"/>
<line x1="1677.75" y1="714.00" x2="1677.75" y2="757.50" stroke="#b424e6" stroke-width="1.6" stroke-linecap="butt" stroke-opacity="0.87"/>
<line x1="1655.35" y1="714.00" x2="1700.15" y2="714.00" stroke="#b424e6" stroke-width="1.6" stroke-linecap="butt" stroke-opacity="0.87"/>
<line x1="1655.35" y1="757.50" x2="1700.15" y2="757.50" stroke="#b424e6" stroke-width="1.6" stroke-linecap="butt" stroke-opacity="0.87"/>
<line x1="1632.55" y1="736.00" x2="1722.95" y2="736.00" stroke="#b424e6" stroke-width="2.8" stroke-linecap="butt" stroke-opacity="0.87"/>
<circle cx="1677.75" cy="657.50" r="6.15" fill="#b424e6" fill-opacity="0.87"/>
<circle cx="1665.75" cy="737.25" r="6.15" fill="#b424e6" fill-opacity="0.87"/>
<circle cx="1690.00" cy="734.50" r="6.15" fill="#b424e6" fill-opacity="0.87"/>
<circle cx="1677.75" cy="767.25" r="6.15" fill="#b424e6" fill-opacity="0.87"/>
<circle cx="1677.75" cy="783.25" r="6.15" fill="#b424e6" fill-opacity="0.87"/>
</svg>
</body></html>
